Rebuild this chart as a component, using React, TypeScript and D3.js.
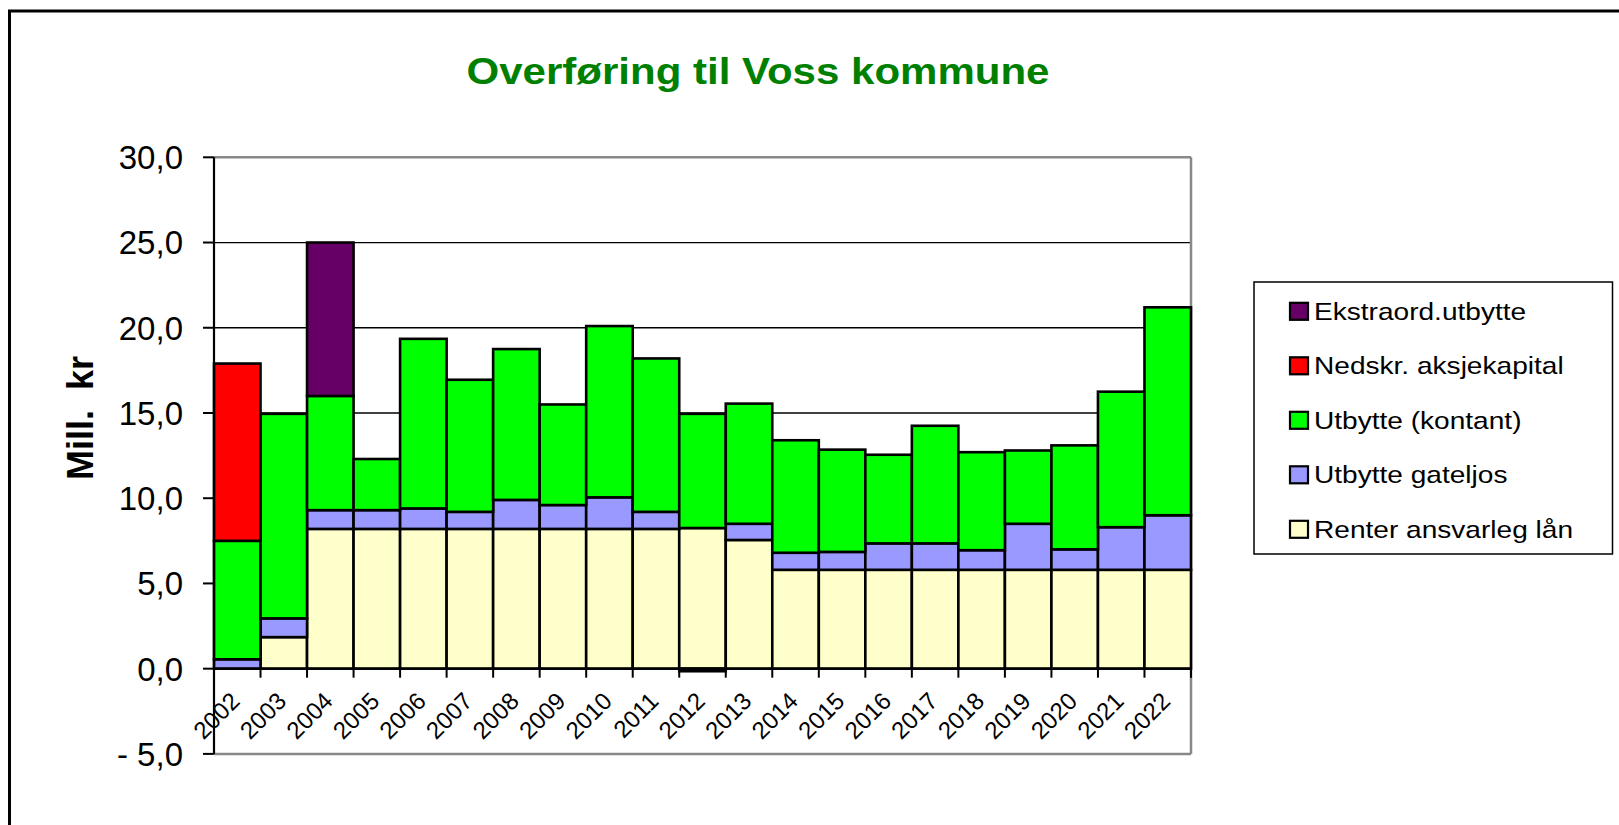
import React from 'react';
import * as d3 from 'd3';

// years along the x axis
const years = ['2002', '2003', '2004', '2005', '2006', '2007', '2008', '2009', '2010', '2011', '2012',
  '2013', '2014', '2015', '2016', '2017', '2018', '2019', '2020', '2021', '2022'];

// Mill. kr per series
const renter = [0, 1.85, 8.2, 8.2, 8.2, 8.2, 8.2, 8.2, 8.2, 8.2, 8.25, 7.55, 5.8, 5.8, 5.8, 5.8, 5.8, 5.8, 5.8, 5.8, 5.8];
const gateljos = [0.55, 1.1, 1.1, 1.1, 1.2, 1.0, 1.7, 1.4, 1.85, 1.0, -0.15, 0.95, 1.0, 1.05, 1.55, 1.55, 1.15, 2.7, 1.2, 2.5, 3.2];
const kontant = [6.95, 12.0, 6.7, 3.0, 9.95, 7.75, 8.85, 5.9, 10.05, 9.0, 6.7, 7.05, 6.6, 6.0, 5.2, 6.9, 5.75, 4.3, 6.1, 7.95, 12.2];
const nedskr = [10.4, 0, 0, 0, 0, 0, 0, 0, 0, 0, 0, 0, 0, 0, 0, 0, 0, 0, 0, 0, 0];
const ekstra = [0, 0, 9.0, 0, 0, 0, 0, 0, 0, 0, 0, 0, 0, 0, 0, 0, 0, 0, 0, 0, 0];

const yTicks = [-5, 0, 5, 10, 15, 20, 25, 30];

// bottom to top
const series = [
  { key: 'renter', label: 'Renter ansvarleg lån', color: '#FFFFCC', values: renter },
  { key: 'gateljos', label: 'Utbytte gateljos', color: '#9999FF', values: gateljos },
  { key: 'kontant', label: 'Utbytte (kontant)', color: '#00FF00', values: kontant },
  { key: 'nedskr', label: 'Nedskr. aksjekapital', color: '#FF0000', values: nedskr },
  { key: 'ekstra', label: 'Ekstraord.utbytte', color: '#660066', values: ekstra },
];

const font = 'Arial, "Liberation Sans", sans-serif';

const App = () => {
  const W = 1619;
  const H = 825;
  const plot = { left: 214, right: 1191, top: 157.3, bottom: 753.9 };

  const x = d3.scaleBand().domain(years).range([plot.left, plot.right]).padding(0);
  const y = d3.scaleLinear().domain([-5, 30]).range([plot.bottom, plot.top]);

  const rows = years.map((yr, i) => {
    const r: any = { year: yr };
    series.forEach(s => { r[s.key] = s.values[i]; });
    return r;
  });
  const stacked = d3.stack<any>()
    .keys(series.map(s => s.key))
    .offset(d3.stackOffsetDiverging)(rows);

  const fmt = (v: number) => (v < 0 ? '- ' : '') + Math.abs(v).toFixed(1).replace('.', ',');
  const y0 = y(0);

  const legendItems = series.slice().reverse();

  return (
    <svg width={W} height={H} style={{ position: 'absolute', left: 0, top: 0, background: '#fff' }}
      fontFamily={font}>
      <rect x={9.5} y={11} width={1700} height={900} fill="#fff" stroke="#000" strokeWidth={3} />

      <text x={758} y={84} textAnchor="middle" fontSize={36} fontWeight="bold" fill="#008000"
        textLength={583} lengthAdjust="spacingAndGlyphs">Overføring til Voss kommune</text>

      {/* gridlines */}
      {[5, 10, 15, 20, 25].map(t => (
        <line key={t} x1={plot.left} x2={plot.right} y1={y(t)} y2={y(t)} stroke="#000" strokeWidth={1.3} />
      ))}
      {/* plot border */}
      <line x1={plot.left} x2={plot.right} y1={plot.top} y2={plot.top} stroke="#888" strokeWidth={2.5} />
      <line x1={plot.left} x2={plot.right} y1={plot.bottom} y2={plot.bottom} stroke="#888" strokeWidth={2.5} />
      <line x1={plot.right} x2={plot.right} y1={plot.top} y2={plot.bottom} stroke="#888" strokeWidth={2.5} />

      {/* bars */}
      {stacked.map((layer, si) => (
        <g key={layer.key} fill={series[si].color} stroke="#000" strokeWidth={2.6}>
          {layer.map((d, i) => {
            if (d[1] - d[0] === 0) return null;
            const top = y(Math.max(d[0], d[1]));
            const bot = y(Math.min(d[0], d[1]));
            return <rect key={i} x={x(years[i])} y={top} width={x.bandwidth()} height={bot - top} />;
          })}
        </g>
      ))}

      {/* x axis */}
      <line x1={plot.left} x2={plot.right} y1={y0} y2={y0} stroke="#000" strokeWidth={2.2} />
      {years.concat(['end']).map((yr, i) => {
        const xx = plot.left + i * x.step();
        return <line key={'xt' + i} x1={xx} x2={xx} y1={y0} y2={y0 + 9} stroke="#000" strokeWidth={2} />;
      })}
      {years.map(yr => {
        const cx = (x(yr) as number) + x.bandwidth() / 2 + 4;
        const cy = y0 + 34;
        return (
          <text key={'xl' + yr} x={cx} y={cy} fontSize={24} textAnchor="end" fill="#000"
            transform={`rotate(-45 ${cx} ${cy})`}>{yr}</text>
        );
      })}

      {/* y axis */}
      <line x1={plot.left} x2={plot.left} y1={plot.top} y2={plot.bottom} stroke="#000" strokeWidth={2.2} />
      {yTicks.map(t => (
        <g key={'yt' + t}>
          <line x1={plot.left - 11} x2={plot.left} y1={y(t)} y2={y(t)} stroke="#000" strokeWidth={2} />
          <text x={183} y={y(t)} dy="0.36em" textAnchor="end" fontSize={33} fill="#000">{fmt(t)}</text>
        </g>
      ))}
      <text transform="translate(93,418) rotate(-90)" textAnchor="middle" fontSize={36} fontWeight="bold"
        fill="#000" style={{ whiteSpace: 'pre' }}>{'Mill.  kr'}</text>

      {/* legend */}
      <rect x={1254} y={282} width={358.5} height={272} fill="#fff" stroke="#000" strokeWidth={1.5} />
      {legendItems.map((s, i) => {
        const cy = 311.3 + i * 54.5;
        return (
          <g key={'lg' + s.key}>
            <rect x={1290} y={cy - 8.5} width={18} height={17} fill={s.color} stroke="#000" strokeWidth={2.2} />
            <g transform={`translate(1314 ${cy}) scale(1.17 1)`}>
              <text x={0} y={0} dy="0.36em" fontSize={24} fill="#000">{s.label}</text>
            </g>
          </g>
        );
      })}
    </svg>
  );
};

export default App;
